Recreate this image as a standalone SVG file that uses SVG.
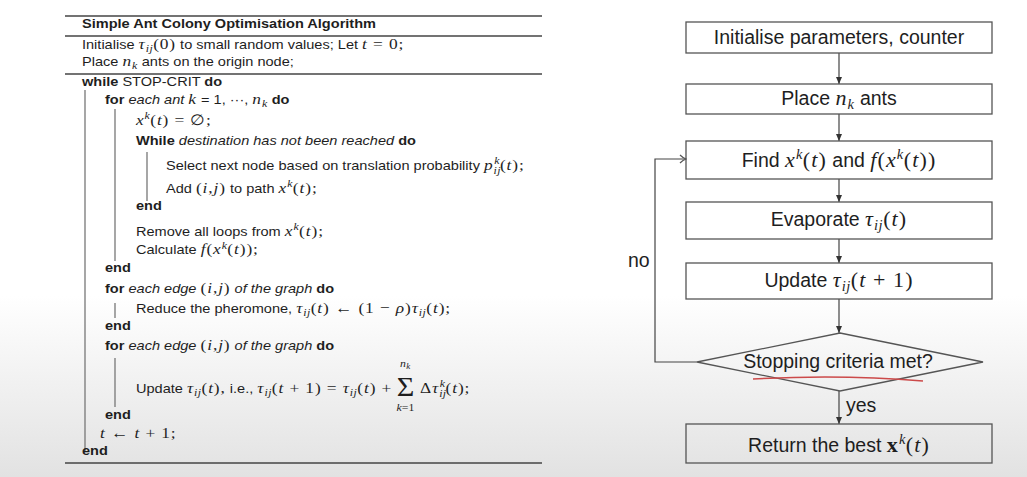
<svg xmlns="http://www.w3.org/2000/svg" width="1027" height="477" viewBox="0 0 1027 477">
<defs>
<linearGradient id="bg" x1="0" y1="0" x2="0" y2="1">
<stop offset="0" stop-color="#ffffff"/>
<stop offset="0.62" stop-color="#ffffff"/>
<stop offset="1" stop-color="#e2e2e2"/>
</linearGradient>
<marker id="ah" markerWidth="8" markerHeight="8" refX="7" refY="4" orient="auto" markerUnits="userSpaceOnUse">
<path d="M0,1 L7,4 L0,7 Z" fill="#333"/>
</marker>
<marker id="oh" markerWidth="10" markerHeight="10" refX="9" refY="5" orient="auto" markerUnits="userSpaceOnUse">
<path d="M3,1 Q6,4 9,5 Q6,6 3,9" fill="none" stroke="#555" stroke-width="1.2"/>
</marker>
<style>
.t{font-family:"Liberation Sans",Arial,sans-serif;font-size:13px;fill:#1e1e1e}
.b{font-weight:bold}
.i{font-style:italic}
.m{font-family:"Liberation Serif","Times New Roman",serif;font-style:italic;font-size:15.5px;letter-spacing:0.8px}
.r{font-family:"Liberation Serif","Times New Roman",serif;font-style:normal;font-size:15.5px;letter-spacing:0.8px}
.s{font-family:"Liberation Serif","Times New Roman",serif;font-style:italic;font-size:10.5px;letter-spacing:0.4px}
.rule{stroke:#444;stroke-width:1.4}
.bar{stroke:#777;stroke-width:1.3}
.box{fill:none;stroke:#555;stroke-width:1.3}
.f{font-family:"Liberation Sans",Arial,sans-serif;font-size:19.5px;fill:#1e1e1e;text-anchor:middle}
.fm{font-family:"Liberation Serif","Times New Roman",serif;font-style:italic;font-size:22px;letter-spacing:1.1px}
.fr{font-family:"Liberation Serif","Times New Roman",serif;font-size:22px;letter-spacing:1.1px}
.fs{font-family:"Liberation Serif","Times New Roman",serif;font-style:italic;font-size:14.5px;letter-spacing:0.5px}
.edge{stroke:#444;stroke-width:1.2;fill:none}
</style>
</defs>
<rect x="0" y="0" width="1027" height="477" fill="url(#bg)"/>

<g id="algorithm">
<line class="rule" x1="65" y1="16" x2="542" y2="16"/>
<line class="rule" x1="65" y1="36" x2="542" y2="36"/>
<line class="rule" x1="65" y1="74" x2="542" y2="74"/>
<line class="rule" x1="65" y1="463" x2="542" y2="463"/>
<line class="bar" x1="85" y1="90" x2="85" y2="452"/>
<line class="bar" x1="115" y1="109" x2="115" y2="261"/>
<line class="bar" x1="147" y1="152" x2="147" y2="201"/>
<line class="bar" x1="115" y1="303" x2="115" y2="318"/>
<line class="bar" x1="115" y1="358" x2="115" y2="407"/>

<g transform="scale(1.12,1)">
<text x="73.2" y="28" class="t b">Simple Ant Colony Optimisation Algorithm</text>
<text x="73.2" y="49" class="t">Initialise <tspan class="m">τ</tspan><tspan class="s" dy="3.5">ij</tspan><tspan class="r" dy="-3.5">(0)</tspan> to small random values; Let <tspan class="m">t</tspan><tspan class="r"> = 0;</tspan></text>
<text x="73.2" y="66" class="t">Place <tspan class="m">n</tspan><tspan class="s" dy="3.5">k</tspan><tspan dy="-3.5"> ants on the origin node;</tspan></text>
<text x="73.2" y="86" class="t"><tspan class="b">while</tspan> STOP-CRIT <tspan class="b">do</tspan></text>
<text x="93.75" y="104" class="t"><tspan class="b">for</tspan> <tspan class="i">each ant</tspan> <tspan class="m">k</tspan> = 1, ···, <tspan class="m">n</tspan><tspan class="s" dy="3.5">k</tspan><tspan class="b" dy="-3.5"> do</tspan></text>
<text x="121.4" y="125" class="t"><tspan class="m">x</tspan><tspan class="s" dy="-6">k</tspan><tspan class="r" dy="6">(</tspan><tspan class="m">t</tspan><tspan class="r">) = ∅;</tspan></text>
<text x="121.4" y="145" class="t"><tspan class="b">While</tspan> <tspan class="i">destination has not been reached</tspan> <tspan class="b">do</tspan></text>
<text x="148.2" y="170" class="t">Select next node based on translation probability <tspan class="m">p</tspan><tspan class="s" dy="4">ij</tspan><tspan class="s" dx="-6" dy="-10">k</tspan><tspan class="r" dy="6">(</tspan><tspan class="m">t</tspan><tspan class="r">);</tspan></text>
<text x="148.2" y="193" class="t">Add <tspan class="r">(</tspan><tspan class="m">i</tspan><tspan class="r">,</tspan><tspan class="m">j</tspan><tspan class="r">)</tspan> to path <tspan class="m">x</tspan><tspan class="s" dy="-6">k</tspan><tspan class="r" dy="6">(</tspan><tspan class="m">t</tspan><tspan class="r">);</tspan></text>
<text x="121.4" y="210" class="t b">end</text>
<text x="121.4" y="236" class="t">Remove all loops from <tspan class="m">x</tspan><tspan class="s" dy="-6">k</tspan><tspan class="r" dy="6">(</tspan><tspan class="m">t</tspan><tspan class="r">);</tspan></text>
<text x="121.4" y="254" class="t">Calculate <tspan class="m">f</tspan><tspan class="r">(</tspan><tspan class="m">x</tspan><tspan class="s" dy="-5">k</tspan><tspan class="r" dy="5">(</tspan><tspan class="m">t</tspan><tspan class="r">));</tspan></text>
<text x="93.75" y="272" class="t b">end</text>
<text x="93.75" y="293" class="t"><tspan class="b">for</tspan> <tspan class="i">each edge</tspan> <tspan class="r">(</tspan><tspan class="m">i</tspan><tspan class="r">,</tspan><tspan class="m">j</tspan><tspan class="r">)</tspan> <tspan class="i">of the graph</tspan> <tspan class="b">do</tspan></text>
<text x="121.4" y="313" class="t">Reduce the pheromone, <tspan class="m">τ</tspan><tspan class="s" dy="3.5">ij</tspan><tspan class="r" dy="-3.5">(</tspan><tspan class="m">t</tspan><tspan class="r">) ← (1 − </tspan><tspan class="m">ρ</tspan><tspan class="r">)</tspan><tspan class="m">τ</tspan><tspan class="s" dy="3.5">ij</tspan><tspan class="r" dy="-3.5">(</tspan><tspan class="m">t</tspan><tspan class="r">);</tspan></text>
<text x="93.75" y="330" class="t b">end</text>
<text x="93.75" y="350" class="t"><tspan class="b">for</tspan> <tspan class="i">each edge</tspan> <tspan class="r">(</tspan><tspan class="m">i</tspan><tspan class="r">,</tspan><tspan class="m">j</tspan><tspan class="r">)</tspan> <tspan class="i">of the graph</tspan> <tspan class="b">do</tspan></text>
<text x="121.4" y="393" class="t">Update <tspan class="m">τ</tspan><tspan class="s" dy="3.5">ij</tspan><tspan class="r" dy="-3.5">(</tspan><tspan class="m">t</tspan><tspan class="r">),</tspan> i.e., <tspan class="m">τ</tspan><tspan class="s" dy="3.5">ij</tspan><tspan class="r" dy="-3.5">(</tspan><tspan class="m">t</tspan><tspan class="r"> + 1) = </tspan><tspan class="m">τ</tspan><tspan class="s" dy="3.5">ij</tspan><tspan class="r" dy="-3.5">(</tspan><tspan class="m">t</tspan><tspan class="r">) +</tspan></text>
<text x="362" y="396" style="font-family:'Liberation Serif',serif;font-size:27px;text-anchor:middle;fill:#1e1e1e">Σ</text>
<text x="362" y="367" class="s" style="text-anchor:middle;fill:#1e1e1e">n<tspan dy="2" style="font-size:8px">k</tspan></text>
<text x="362" y="411" style="font-family:'Liberation Serif',serif;font-size:10.5px;text-anchor:middle;fill:#1e1e1e"><tspan font-style="italic">k</tspan>=1</text>
<text x="375" y="393" class="t"><tspan class="r">Δ</tspan><tspan class="m">τ</tspan><tspan class="s" dy="4">ij</tspan><tspan class="s" dx="-6" dy="-10">k</tspan><tspan class="r" dy="6">(</tspan><tspan class="m">t</tspan><tspan class="r">);</tspan></text>
<text x="93.75" y="419" class="t b">end</text>
<text x="89.3" y="438" class="t"><tspan class="m">t</tspan><tspan class="r"> ← </tspan><tspan class="m">t</tspan><tspan class="r"> + 1;</tspan></text>
<text x="73.2" y="455" class="t b">end</text>
</g>
</g>

<g id="connectors">
<line class="edge" x1="839" y1="53" x2="839" y2="84" marker-end="url(#ah)"/>
<line class="edge" x1="839" y1="114" x2="839" y2="141" marker-end="url(#ah)"/>
<line class="edge" x1="839" y1="179" x2="839" y2="202" marker-end="url(#ah)"/>
<line class="edge" x1="839" y1="239" x2="839" y2="263" marker-end="url(#ah)"/>
<line class="edge" x1="839" y1="299" x2="839" y2="333" marker-end="url(#ah)"/>
<line class="edge" x1="839" y1="391" x2="839" y2="424" marker-end="url(#ah)"/>
<path class="edge" d="M697,362 H655 V159 H686" marker-end="url(#oh)"/>
<text x="628" y="267" class="f" style="text-anchor:start">no</text>
<text x="846" y="412" class="f" style="text-anchor:start">yes</text>
</g>

<g id="n1"><rect class="box" x="686" y="22" width="306" height="31"/>
<text x="839" y="44" class="f">Initialise parameters, counter</text></g>
<g id="n2"><rect class="box" x="686" y="84" width="306" height="30"/>
<text x="839" y="105" class="f">Place <tspan class="fm">n</tspan><tspan class="fs" dy="4">k</tspan><tspan dy="-4"> ants</tspan></text></g>
<g id="n3"><rect class="box" x="686" y="141" width="306" height="38"/>
<text x="839" y="167" class="f">Find <tspan class="fm">x</tspan><tspan class="fs" dy="-8">k</tspan><tspan class="fr" dy="8">(</tspan><tspan class="fm">t</tspan><tspan class="fr">)</tspan> and <tspan class="fm">f</tspan><tspan class="fr">(</tspan><tspan class="fm">x</tspan><tspan class="fs" dy="-8">k</tspan><tspan class="fr" dy="8">(</tspan><tspan class="fm">t</tspan><tspan class="fr">))</tspan></text></g>
<g id="n4"><rect class="box" x="686" y="202" width="306" height="37"/>
<text x="839" y="226" class="f">Evaporate <tspan class="fm">τ</tspan><tspan class="fs" dy="4">ij</tspan><tspan class="fr" dy="-4">(</tspan><tspan class="fm">t</tspan><tspan class="fr">)</tspan></text></g>
<g id="n5"><rect class="box" x="686" y="263" width="306" height="36"/>
<text x="839" y="287" class="f">Update <tspan class="fm">τ</tspan><tspan class="fs" dy="4">ij</tspan><tspan class="fr" dy="-4">(</tspan><tspan class="fm">t</tspan><tspan class="fr"> + 1)</tspan></text></g>
<g id="n6"><polygon class="box" points="840,333 983,362 840,391 697,362"/>
<text x="838" y="368" class="f">Stopping criteria met?</text>
<path d="M753,379 Q840,374 923,381" fill="none" stroke="#cc4a4a" stroke-width="1.5"/></g>
<g id="n7"><rect class="box" x="686" y="424" width="306" height="39"/>
<text x="839" y="452" class="f">Return the best <tspan class="fr" font-weight="bold" font-style="normal">x</tspan><tspan class="fs" dy="-8">k</tspan><tspan class="fr" dy="8">(</tspan><tspan class="fm">t</tspan><tspan class="fr">)</tspan></text></g>
</svg>
